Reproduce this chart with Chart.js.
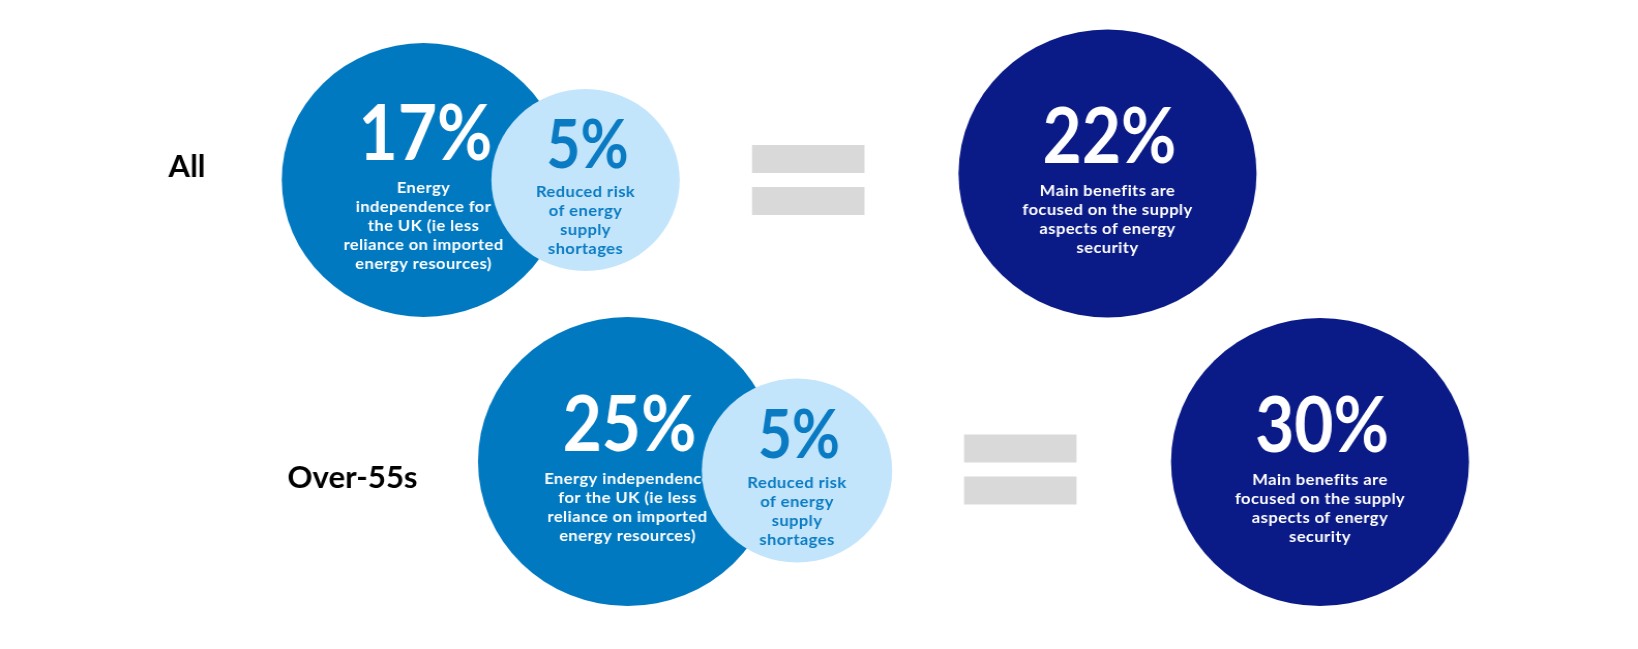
<!DOCTYPE html>
<html>
<head>
<meta charset="utf-8">
<script src="https://cdn.jsdelivr.net/npm/chart.js@4.4.1/dist/chart.umd.min.js"></script>
<style>
  html, body { margin: 0; padding: 0; background: #fff; }
</style>
</head>
<body>
<canvas id="chart" width="1583" height="649" style="display:block;width:1638px;height:649px"></canvas>
<script>
// Survey shares per group
const groups       = ['All', 'Over-55s']
const independence = [17, 25]
const shortages    = [5, 5]
const supplySide   = [22, 30]

const independenceText = [
  ['Energy', 'independence for', 'the UK (ie less', 'reliance on imported', 'energy resources)'],
  ['Energy independence', 'for the UK (ie less', 'reliance on imported', 'energy resources)'],
]
const shortagesText = ['Reduced risk', 'of energy', 'supply', 'shortages']
const supplyText    = ['Main benefits are', 'focused on the supply', 'aspects of energy', 'security']

// Layout, in page pixels (the x scale runs 0..1638, the y scale 0..649 top-down)
const indepX = [423.5, 627.5], indepY = [180, 461.5], indepR = [137, 144.5]
const shortX = [585.5, 797],   shortY = [180, 470.5], shortR = [91, 92]
const supX   = [1107.5, 1320], supY   = [173.5, 462], supR   = [144, 144]
const groupX = [187, 352.5],   groupY = [177, 488]
const equalsX = [752, 964], equalsY = [145, 434.5]

// canvas is drawn 1583 wide and shown 1638 wide
const STRETCH = 1638 / 1583
const NUM_SX  = 0.86

const bubbles = (vals, xs, ys, rs) => vals.map((v, i) => ({ x: xs[i], y: ys[i], r: rs[i], v }))

function drawText(ctx, text, x, y, font, color, sx = 1, spacing = '0px') {
  ctx.save()
  ctx.translate(x, y)
  ctx.scale(sx, 1)
  ctx.font = font
  ctx.letterSpacing = spacing
  ctx.fillStyle = color
  ctx.textAlign = 'center'
  ctx.textBaseline = 'alphabetic'
  ctx.fillText(text, 0, 0)
  ctx.restore()
}

// Equals signs between the two sides
const equalsPlugin = {
  id: 'equals',
  beforeDatasetsDraw(chart) {
    const { ctx, scales: { x, y } } = chart
    ctx.save()
    ctx.fillStyle = '#d9d9d9'
    equalsX.forEach((ex, i) => {
      const x0 = x.getPixelForValue(ex), x1 = x.getPixelForValue(ex + 112.5)
      for (const dy of [0, 42]) {
        const y0 = y.getPixelForValue(equalsY[i] + dy), y1 = y.getPixelForValue(equalsY[i] + dy + 28)
        ctx.fillRect(x0, y0, x1 - x0, y1 - y0)
      }
    })
    ctx.restore()
  },
}

// Percentage and caption drawn right after each circle set, so a later
// (overlapping) circle covers the text underneath it
const labelsPlugin = {
  id: 'circleLabels',
  afterDatasetDraw(chart, { index, meta }) {
    const { ctx } = chart
    const ds = chart.data.datasets[index]
    meta.data.forEach((el, i) => {
      const lines = ds.captions[i]
      const small = ds.small
      const capH  = small ? 47.5 : 55
      const gap   = small ? 29.5 : 33
      const blockH = capH + gap + (lines.length - 1) * 19
      const base = el.y + 7 - blockH / 2 + capH
      const numFont = `bold ${small ? 66 : 76}px Lato`
      drawText(ctx, ds.data[i].v + '%', el.x + 2 / STRETCH, base, numFont, ds.textColor, NUM_SX)
      lines.forEach((line, li) => {
        drawText(ctx, line, el.x, base + gap + li * 19, 'bold 16px Lato', ds.textColor, 1, '0.4px')
      })
    })
  },
  afterDatasetsDraw(chart) {
    const { ctx, scales: { x, y } } = chart
    groups.forEach((g, i) => {
      drawText(ctx, g, x.getPixelForValue(groupX[i]), y.getPixelForValue(groupY[i]), 'bold 30px Lato', '#000')
    })
  },
}

new Chart(document.getElementById('chart'), {
  type: 'bubble',
  data: {
    datasets: [
      {
        label: 'Reduced risk of energy supply shortages',
        data: bubbles(shortages, shortX, shortY, shortR),
        backgroundColor: '#c2e5fc',
        captions: [shortagesText, shortagesText],
        textColor: '#0a7bc2',
        small: true,
        order: 0,
        clip: false,
      },
      {
        label: 'Energy independence for the UK',
        data: bubbles(independence, indepX, indepY, indepR),
        backgroundColor: '#0079c1',
        captions: independenceText,
        textColor: '#ffffff',
        order: 1,
        clip: false,
      },
      {
        label: 'Main benefits focused on supply',
        data: bubbles(supplySide, supX, supY, supR),
        backgroundColor: '#0a1a86',
        captions: [supplyText, supplyText],
        textColor: '#ffffff',
        order: 2,
        clip: false,
      },
    ],
  },
  options: {
    responsive: false,
    animation: false,
    devicePixelRatio: 1,
    layout: { padding: 0, autoPadding: false },
    elements: { point: { borderWidth: 0, hoverBorderWidth: 0, hoverRadius: 0 } },
    scales: {
      x: { type: 'linear', min: 0, max: 1638, display: false },
      y: { type: 'linear', min: 0, max: 649, reverse: true, display: false },
    },
    plugins: {
      legend: { display: false },
      tooltip: { enabled: false },
    },
    events: [],
  },
  plugins: [equalsPlugin, labelsPlugin],
})
</script>
</body>
</html>
